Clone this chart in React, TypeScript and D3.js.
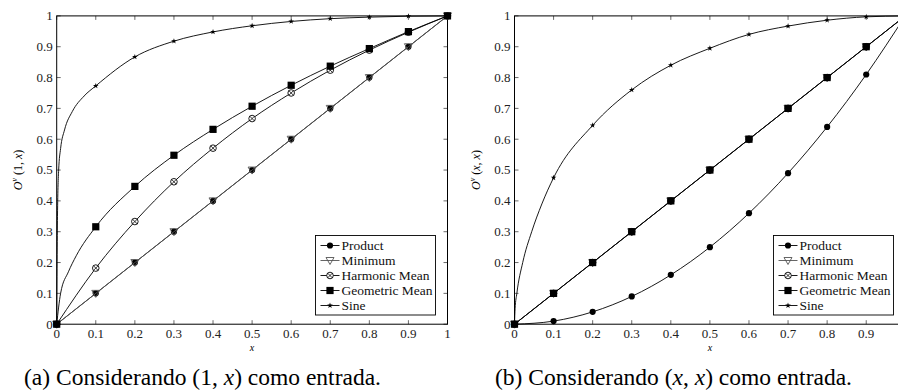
import React from 'react';
import * as d3 from 'd3';

const width = 898;
const height = 392;

// shared grid of x values
const grid = [0, 0.1, 0.2, 0.3, 0.4, 0.5, 0.6, 0.7, 0.8, 0.9, 1];
const tickValues = [0, 0.1, 0.2, 0.3, 0.4, 0.5, 0.6, 0.7, 0.8, 0.9, 1];
const tickLabels = ['0', '0.1', '0.2', '0.3', '0.4', '0.5', '0.6', '0.7', '0.8', '0.9', '1'];
const seriesNames = ['Product', 'Minimum', 'Harmonic Mean', 'Geometric Mean', 'Sine'];

// (a) input (1, x)
const aProduct = [0, 0.1, 0.2, 0.3, 0.4, 0.5, 0.6, 0.7, 0.8, 0.9, 1];
const aMinimum = [0, 0.1, 0.2, 0.3, 0.4, 0.5, 0.6, 0.7, 0.8, 0.9, 1];
const aHarmonic = [0, 0.182, 0.333, 0.462, 0.571, 0.667, 0.75, 0.824, 0.889, 0.947, 1];
const aGeometricX = [0, 0.01, 0.03, 0.05, 0.1, 0.2, 0.3, 0.4, 0.5, 0.6, 0.7, 0.8, 0.9, 1];
const aGeometric = [0, 0.1, 0.17, 0.222, 0.316, 0.447, 0.548, 0.632, 0.707, 0.775, 0.837, 0.894, 0.949, 1];
const aSineX = [0, 0.002, 0.005, 0.01, 0.02, 0.04, 0.07, 0.1, 0.2, 0.3, 0.4, 0.5, 0.6, 0.7, 0.8, 0.9, 1];
const aSine = [0, 0.35, 0.5, 0.57, 0.63, 0.69, 0.74, 0.773, 0.867, 0.918, 0.948, 0.968, 0.982, 0.991, 0.996, 0.999, 1];

// (b) input (x, x)
const bProduct = [0, 0.01, 0.04, 0.09, 0.16, 0.25, 0.36, 0.49, 0.64, 0.81, 1];
const bMinimum = [0, 0.1, 0.2, 0.3, 0.4, 0.5, 0.6, 0.7, 0.8, 0.9, 1];
const bHarmonic = [0, 0.1, 0.2, 0.3, 0.4, 0.5, 0.6, 0.7, 0.8, 0.9, 1];
const bGeometric = [0, 0.1, 0.2, 0.3, 0.4, 0.5, 0.6, 0.7, 0.8, 0.9, 1];
const bSineX = [0, 0.0015, 0.006, 0.021, 0.044, 0.07, 0.1, 0.2, 0.3, 0.4, 0.5, 0.6, 0.7, 0.8, 0.9, 1];
const bSine = [0, 0.05, 0.1, 0.2, 0.3, 0.39, 0.475, 0.645, 0.76, 0.84, 0.895, 0.94, 0.967, 0.986, 0.997, 1];

const serifStyle = { fontFamily: "'Liberation Serif', 'DejaVu Serif', 'Times New Roman', Times, serif" };

const toPts = (xs, ys) => xs.map((x, i) => ({ x, y: ys[i] }));
const onGrid = x => Math.abs(x * 10 - Math.round(x * 10)) < 1e-6;

const Marker = ({ kind, x, y }) => {
  if (kind === 'circle') return <circle cx={x} cy={y} r={3.1} fill="black" />;
  if (kind === 'tri')
    return (
      <path
        d={`M${x - 4},${y - 3} L${x + 4},${y - 3} L${x},${y + 4} Z`}
        fill="none"
        stroke="#555"
        strokeWidth={0.9}
      />
    );
  if (kind === 'otimes')
    return (
      <g>
        <circle cx={x} cy={y} r={3.3} fill="white" stroke="black" strokeWidth={0.9} />
        <path
          d={`M${x - 2.3},${y - 2.3} L${x + 2.3},${y + 2.3} M${x - 2.3},${y + 2.3} L${x + 2.3},${y - 2.3}`}
          stroke="black"
          strokeWidth={0.8}
        />
      </g>
    );
  if (kind === 'square') return <rect x={x - 3.6} y={y - 3.6} width={7.2} height={7.2} fill="black" />;
  return (
    <path d={d3.symbol(d3.symbolStar, 10)()} transform={`translate(${x},${y})`} fill="black" />
  );
};

const kinds = ['circle', 'tri', 'otimes', 'square', 'star'];
const colors = ['black', '#555', 'black', 'black', 'black'];

const Panel = ({ x0, x1, series, legendX }) => {
  const top = 15.9;
  const bottom = 324.2;
  const xScale = d3.scaleLinear().domain([0, 1]).range([x0, x1]);
  const yScale = d3.scaleLinear().domain([0, 1]).range([bottom, top]);
  const line = d3
    .line()
    .x(d => xScale(d.x))
    .y(d => yScale(d.y))
    .curve(d3.curveMonotoneX);
  const tl = 4;
  const legendY = 235.5;
  return (
    <g style={serifStyle}>
      {tickValues.map((t, i) => (
        <g key={'t' + i}>
          <line x1={xScale(t)} x2={xScale(t)} y1={bottom} y2={bottom - tl} stroke="#444" strokeWidth={0.8} />
          <line x1={xScale(t)} x2={xScale(t)} y1={top} y2={top + tl} stroke="#444" strokeWidth={0.8} />
          <line x1={x0} x2={x0 + tl} y1={yScale(t)} y2={yScale(t)} stroke="#444" strokeWidth={0.8} />
          <line x1={x1} x2={x1 - tl} y1={yScale(t)} y2={yScale(t)} stroke="#444" strokeWidth={0.8} />
          {xScale(t) + 8 < width && (
            <text x={xScale(t)} y={bottom + 14} textAnchor="middle" fontSize={13} fill="#222">
              {tickLabels[i]}
            </text>
          )}
          <text x={x0 - 4} y={yScale(t) + 4.3} textAnchor="end" fontSize={13} fill="#222">
            {tickLabels[i]}
          </text>
        </g>
      ))}
      <rect x={x0} y={top} width={x1 - x0} height={bottom - top} fill="none" stroke="black" strokeWidth={1} />
      {series.map((s, i) => (
        <g key={'s' + i}>
          <path d={line(s)} fill="none" stroke={colors[i]} strokeWidth={0.9} />
          {s.filter(p => onGrid(p.x)).map((p, j) => (
            <Marker key={j} kind={kinds[i]} x={xScale(p.x)} y={yScale(p.y)} />
          ))}
        </g>
      ))}
      <text x={(x0 + x1) / 2} y={351} textAnchor="middle" fontSize={10} fontStyle="italic">
        x
      </text>
      <rect x={legendX} y={legendY} width={120} height={79.5} fill="white" stroke="black" strokeWidth={0.9} />
      {seriesNames.map((n, i) => {
        const yy = legendY + 10 + i * 15;
        return (
          <g key={'l' + i}>
            <line x1={legendX + 5} x2={legendX + 24} y1={yy} y2={yy} stroke={colors[i]} strokeWidth={0.9} />
            <Marker kind={kinds[i]} x={legendX + 14.5} y={yy} />
            <text x={legendX + 26} y={yy + 4.3} fontSize={13.5} fill="#111">
              {n}
            </text>
          </g>
        );
      })}
    </g>
  );
};

const App = () => {
  const seriesA = [
    toPts(grid, aProduct),
    toPts(grid, aMinimum),
    toPts(grid, aHarmonic),
    toPts(aGeometricX, aGeometric),
    toPts(aSineX, aSine),
  ];
  const seriesB = [
    toPts(grid, bProduct),
    toPts(grid, bMinimum),
    toPts(grid, bHarmonic),
    toPts(grid, bGeometric),
    toPts(bSineX, bSine),
  ];
  return (
    <svg
      width={width}
      height={height}
      style={{ position: 'absolute', left: 0, top: 0, background: 'white', overflow: 'hidden' }}
    >
      <Panel x0={56.7} x1={447.5} series={seriesA} legendX={315.5} />
      <Panel x0={514.5} x1={905.3} series={seriesB} legendX={773.5} />
      <g style={serifStyle}>
        <text transform="translate(22,170) rotate(-90)" textAnchor="middle" fontSize={12}>
          <tspan fontStyle="italic">O</tspan>
          <tspan fontSize={8} fontStyle="italic" dy={-5}>v</tspan>
          <tspan dy={5}> (1, </tspan>
          <tspan fontStyle="italic">x</tspan>
          <tspan>)</tspan>
        </text>
        <text transform="translate(480,170) rotate(-90)" textAnchor="middle" fontSize={12}>
          <tspan fontStyle="italic">O</tspan>
          <tspan fontSize={8} fontStyle="italic" dy={-5}>v</tspan>
          <tspan dy={5}> (</tspan>
          <tspan fontStyle="italic">x</tspan>
          <tspan>, </tspan>
          <tspan fontStyle="italic">x</tspan>
          <tspan>)</tspan>
        </text>
        <text x={24} y={385} fontSize={23.5}>
          (a) Considerando (1, <tspan fontStyle="italic">x</tspan>) como entrada.
        </text>
        <text x={495} y={385} fontSize={23.5}>
          (b) Considerando (<tspan fontStyle="italic">x</tspan>, <tspan fontStyle="italic">x</tspan>) como entrada.
        </text>
      </g>
    </svg>
  );
};

export default App;
